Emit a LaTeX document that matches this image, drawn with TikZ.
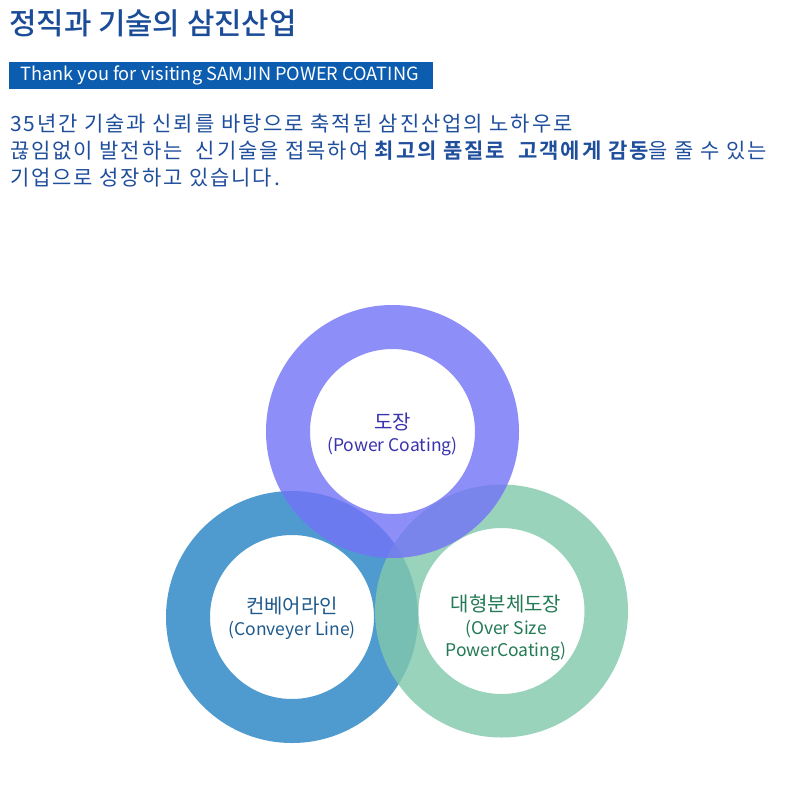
\documentclass[tikz,border=0pt]{standalone}
\usepackage{fontspec}
\setmainfont{Noto Sans CJK KR}
\newfontfamily\krbold{Noto Sans CJK KR Bold}[LetterSpace=9]
\newfontfamily\krmed{Noto Sans CJK KR Medium}
\newfontfamily\krpara{Noto Sans CJK KR}[LetterSpace=9]
\definecolor{titleblue}{HTML}{1A4C98}
\definecolor{bannerblue}{HTML}{0C5DB0}
\definecolor{textblue}{HTML}{1F4E9C}
\definecolor{ringpurple}{RGB}{114,114,248}
\definecolor{ringblue}{RGB}{35,131,196}
\definecolor{ringgreen}{RGB}{129,201,171}
\definecolor{lblpurple}{HTML}{3A33B0}
\definecolor{lblblue}{HTML}{1F5A8C}
\definecolor{lblgreen}{HTML}{237A55}
\tikzset{
  ring/.style={fill opacity=0.8, even odd rule},
  para/.style={anchor=base west, inner sep=0pt, text=textblue, font=\krpara\fontsize{21}{24}\selectfont},
  clabel/.style={align=center, inner sep=0pt, font=\fontsize{17.5}{22}\selectfont}
}
\begin{document}
\begin{tikzpicture}[x=1pt,y=-1pt]
\useasboundingbox (0,0) rectangle (785,802);
\fill[white] (0,0) rectangle (785,802);
% title
\node[anchor=base west, inner sep=0pt, text=titleblue, font=\krmed\fontsize{29.8}{30}\selectfont] (title) at (9,35) {정직과 기술의 삼진산업};
% banner
\fill[bannerblue] (9,62) rectangle (433,89);
\node[anchor=base west, inner sep=0pt, text=white, font=\fontsize{18.2}{20}\selectfont] (banner) at (20,81) {Thank you for visiting SAMJIN POWER COATING};
% paragraph
\node[para] (l1) at (10,132) {35년간 기술과 신뢰를 바탕으로 축적된 삼진산업의 노하우로};
\node[para] (l2) at (10,159) {끊임없이 발전하는\ \ 신기술을 접목하여 {\krbold 최고의 품질로\ \ 고객에게 감동}을 줄 수 있는};
\node[para] (l3) at (10,186) {기업으로 성장하고 있습니다.};
% rings
\fill[ring, ringblue] (292,617) circle[radius=126] (292,617) circle[radius=82];
\fill[ring, ringgreen] (501.5,611) circle[radius=126.5] (501.5,611) circle[radius=83];
\fill[ring, ringpurple] (392.5,431.5) circle[radius=126.5] (392.5,431.5) circle[radius=82.5];
% labels
\node[clabel, text=lblpurple] (top) at (392.5,434) {{\fontsize{20}{22}\selectfont 도장}\\(Power Coating)};
\node[clabel, text=lblblue] (left) at (292,618) {{\fontsize{20}{22}\selectfont 컨베어라인}\\(Conveyer Line)};
\node[clabel, text=lblgreen] (right) at (506,628) {{\fontsize{20}{22}\selectfont 대형분체도장}\\[1pt](Over Size\\PowerCoating)};
\end{tikzpicture}
\end{document}
